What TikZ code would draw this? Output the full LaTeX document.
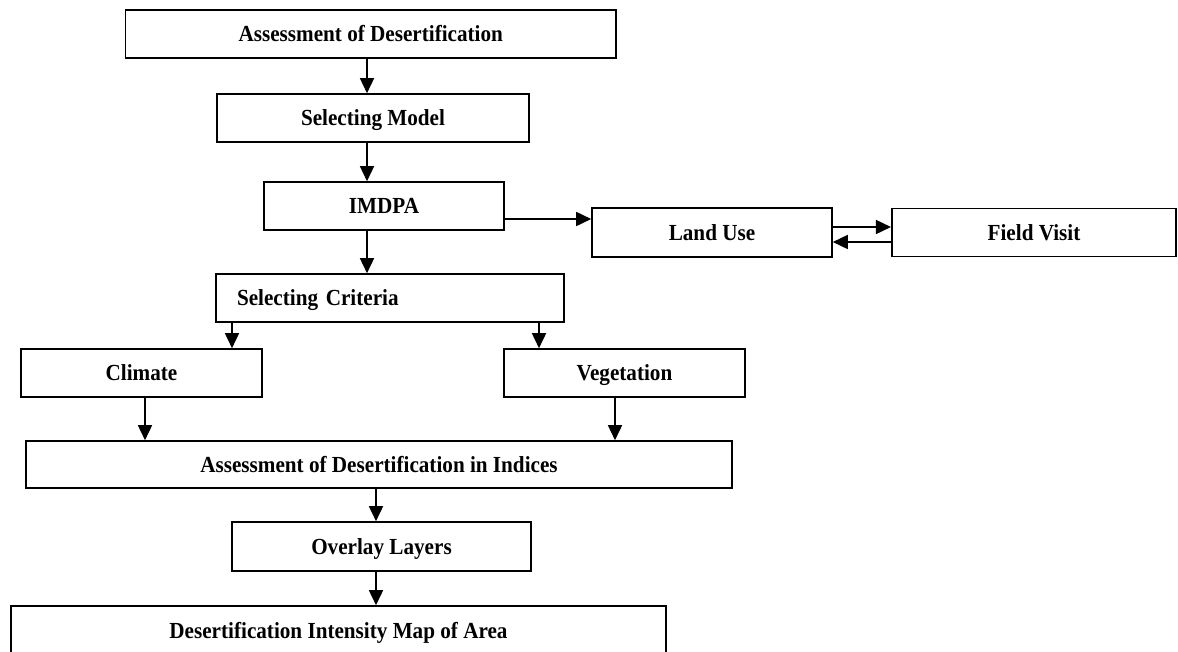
\documentclass[tikz,border=0pt]{standalone}
\usepackage{fontspec}
\setmainfont{Liberation Serif}[FakeStretch=0.92]
\usetikzlibrary{arrows.meta}
\tikzset{
  box/.style={draw=black, line width=1.6pt, fill=white, inner sep=0pt,
    font=\fontsize{23}{26}\selectfont\bfseries, text height=15.2pt, text depth=0pt},
  arr/.style={draw=black, line width=1.6pt, -{Triangle[length=15pt,width=14pt]}}
}
\begin{document}
\begin{tikzpicture}[x=1pt,y=-1pt]
\useasboundingbox (0,0) rectangle (1178,651);
\node[box, minimum width=490.5pt, minimum height=48pt] (b1) at (370.75,34) {Assessment of Desertification};
\node[box, minimum width=312pt, minimum height=48pt] (b2) at (373,118) {Selecting Model};
\node[box, minimum width=240pt, minimum height=48pt] (b3) at (384,206) {IMDPA};
\node[box, minimum width=240pt, minimum height=49pt] (b4) at (712,232.5) {Land Use};
\node[box, minimum width=284.5pt, minimum height=48pt] (b5) at (1034,232.5) {Field Visit};
\node[box, minimum height=48pt, inner xsep=21pt, text width=306pt, align=left] (b6) at (390,298) {Selecting Criteria};
\node[box, minimum width=241pt, minimum height=48pt] (b7) at (141.5,373) {Climate};
\node[box, minimum width=241pt, minimum height=48pt] (b8) at (624.5,373) {Vegetation};
\node[box, minimum width=706pt, minimum height=47pt] (b9) at (379,464.5) {Assessment of Desertification in Indices};
\node[box, minimum width=299pt, minimum height=49pt] (b10) at (381.5,546.5) {Overlay Layers};
\node[box, minimum width=655pt, minimum height=49pt] (b11) at (338.5,630.5) {Desertification Intensity Map of Area};

\draw[arr] (b1.south -| 367,0) -- (b2.north -| 367,0);
\draw[arr] (b2.south -| 367,0) -- (b3.north -| 367,0);
\draw[arr] (b3.south -| 367,0) -- (b6.north -| 367,0);
\draw[arr] (b3.east |- 0,219) -- (b4.west |- 0,219);
\draw[arr] (b4.east |- 0,227) -- (b5.west |- 0,227);
\draw[arr] (b5.west |- 0,242) -- (b4.east |- 0,242);
\draw[arr] (b6.south -| 232,0) -- (b7.north -| 232,0);
\draw[arr] (b6.south -| 539,0) -- (b8.north -| 539,0);
\draw[arr] (b7.south -| 145,0) -- (b9.north -| 145,0);
\draw[arr] (b8.south -| 615,0) -- (b9.north -| 615,0);
\draw[arr] (b9.south -| 376,0) -- (b10.north -| 376,0);
\draw[arr] (b10.south -| 376,0) -- (b11.north -| 376,0);
\end{tikzpicture}
\end{document}
